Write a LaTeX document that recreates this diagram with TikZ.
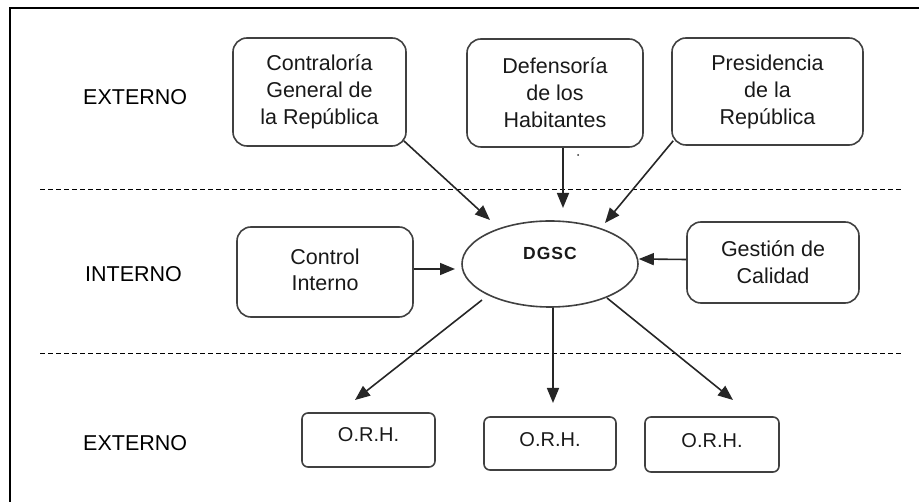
\documentclass[tikz,border=0pt]{standalone}
\usepackage{fontspec}
\setmainfont{Liberation Sans}
\usetikzlibrary{arrows.meta,calc,shapes.geometric}
\begin{document}
\begin{tikzpicture}[x=1pt,y=-1pt,
 box/.style={draw=black!75, line width=1.6pt, rounded corners=14pt, align=center, text=black!90, font=\fontsize{21.5}{27}\selectfont, inner sep=0pt},
 orh/.style={draw=black!75, line width=1.6pt, rounded corners=6pt, text=black!90, font=\fontsize{20}{24}\selectfont, inner sep=0pt},
 lvl/.style={anchor=west, font=\fontsize{21.5}{26}\selectfont, inner sep=0pt},
 sep/.style={dash pattern=on 5pt off 3pt, line width=0.8pt},
 arr/.style={draw=black!85, line width=1.6pt, -{Triangle[length=15pt,width=12pt]}}
]
\useasboundingbox (0,0) rectangle (919,502);
\draw[line width=2.2pt] (10,504) -- (10,8) -- (921,8);

% level labels
\node[lvl] (ext1) at (83,97) {EXTERNO};
\node[lvl] (int) at (85,274) {INTERNO};
\node[lvl] (ext2) at (83,443) {EXTERNO};

% separators
\draw[sep] (40,189) -- (902,189);
\draw[sep] (40,353) -- (902,353);

% boxes
\node[box, minimum width=173pt, minimum height=108pt] (contra) at (319.5,92) {Contraloría\\General de\\la República};
\node[box, minimum width=176pt, minimum height=108pt] (defen) at (555,93) {Defensoría\\de los\\Habitantes};
\node[box, minimum width=191pt, minimum height=107pt] (presi) at (767.5,91.5) {Presidencia\\de la\\República};
\node[box, minimum width=176pt, minimum height=90pt] (control) at (325,272) {\raisebox{5pt}{\begin{tabular}{@{}c@{}}Control\\[-0.5pt]Interno\end{tabular}}};
\node[box, minimum width=172pt, minimum height=81pt] (gestion) at (773,262.5) {Gestión de\\Calidad};
\node[ellipse, draw=black!75, line width=1.6pt, minimum width=176pt, minimum height=86pt, inner sep=0pt, text=black!90,
      font=\fontsize{17.5}{18}\selectfont\bfseries\addfontfeature{LetterSpace=6}] (dgsc) at (550,264) {\raisebox{4.5pt}[0pt][0pt]{DGSC}};
\node[orh, minimum width=133pt, minimum height=54pt] (orh1) at (368.5,440) {\raisebox{-2pt}[0pt][0pt]{O.R.H.}};
\node[orh, minimum width=132pt, minimum height=53pt] (orh2) at (550,443.5) {\raisebox{-3pt}[0pt][0pt]{O.R.H.}};
\node[orh, minimum width=134pt, minimum height=55pt] (orh3) at (712,444.5) {\raisebox{-3pt}[0pt][0pt]{O.R.H.}};

\fill[black!80] (578,155) circle (1pt);

% arrows
\draw[arr] ($(contra.south east)+(-3,-6)$) -- ($(dgsc.center)+(-60,-44)$);
\draw[arr] ($(defen.south)+(8,0)$) -- ($(dgsc.center)+(13,-56)$);
\draw[arr] ($(presi.south west)+(2,-5)$) -- ($(dgsc.center)+(55,-41)$);
\draw[arr] ($(control.east)+(0,-3)$) -- ($(dgsc.center)+(-95,5)$);
\draw[arr] ($(gestion.west)+(0,-3)$) -- ($(dgsc.east)+(0,-5)$);
\draw[arr] ($(dgsc.center)+(-68,36)$) -- ($(orh1.center)+(-13.5,-40)$);
\draw[arr] ($(dgsc.center)+(3,44)$) -- ($(orh2.center)+(3,-40.5)$);
\draw[arr] ($(dgsc.center)+(57,34)$) -- ($(orh3.center)+(21,-44.5)$);
\end{tikzpicture}
\end{document}
